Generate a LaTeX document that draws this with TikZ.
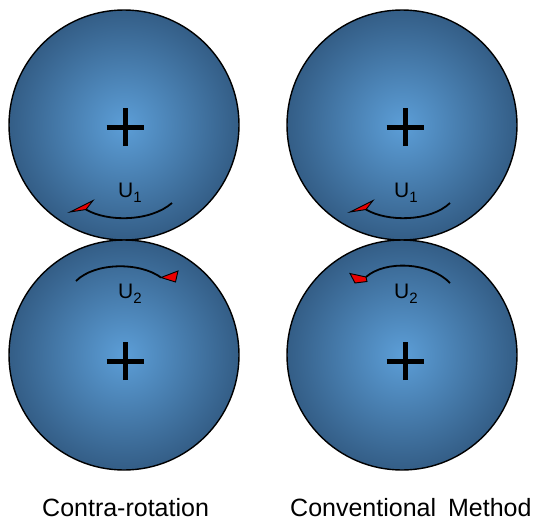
\documentclass[tikz,border=0pt]{standalone}
\usepackage{fontspec}
\setmainfont{Liberation Sans}
\definecolor{ballin}{RGB}{92,158,215}
\definecolor{ballout}{RGB}{42,78,115}
\definecolor{tipred}{RGB}{235,0,0}
\pgfdeclareradialshading{ballshade}{\pgfpoint{0bp}{0bp}}{color(0bp)=(ballin); color(31bp)=(ballout); color(50bp)=(ballout)}
\newcommand\ulab[1]{U\raisebox{-5.5pt}{\fontsize{15}{15}\selectfont #1}}
\tikzset{
  wheel/.style={circle, draw=black, line width=1.4pt, minimum size=230pt, inner sep=0pt, shading=ballshade},
  axisplus/.style={line width=5pt, black},
  rotline/.style={line width=1.8pt, black},
  redtip/.style={fill=tipred, draw=black, line width=0.9pt, line join=miter},
  ulabel/.style={anchor=base west, inner sep=0pt, font=\fontsize{21}{25}\selectfont},
  caption/.style={anchor=base west, inner sep=0pt, font=\fontsize{25}{30}\selectfont}
}
\begin{document}
\begin{tikzpicture}[x=1pt,y=-1pt]
\useasboundingbox (0,0) rectangle (536,523);
% wheels
\node[wheel] (tl) at (124,125) {};
\node[wheel] (bl) at (124,355) {};
\node[wheel] (tr) at (402,125) {};
\node[wheel] (br) at (402,355) {};
% plus signs
\foreach \n/\x/\y in {ptl/125/127, pbl/125/361, ptr/405/127, pbr/405/361}{
  \coordinate (\n) at (\x,\y);
  \draw[axisplus] ([xshift=-18.5pt]\n) -- ([xshift=18.5pt]\n);
  \draw[axisplus] ([yshift=-19pt]\n) -- ([yshift=19pt]\n);
}
% rotation arcs
\coordinate (a1s) at (172,203); \coordinate (a1e) at (86,209.5);
\draw[rotline] (a1s) .. controls (150,222) and (107,222) .. (a1e);
\coordinate (a2s) at (76,281); \coordinate (a2e) at (161,277.5);
\draw[rotline] (a2s) .. controls (95,262) and (140,262) .. (a2e);
\coordinate (a3s) at (450,203); \coordinate (a3e) at (366,209.5);
\draw[rotline] (a3s) .. controls (430,222) and (387,222) .. (a3e);
\coordinate (a4s) at (450,283); \coordinate (a4e) at (366,277);
\draw[rotline] (a4s) .. controls (430,262) and (385,260) .. (a4e);
% red arrow heads
\draw[redtip] (70,212) -- (93,200.5) -- (a1e) -- cycle;
\draw[redtip] (178,271) -- (a2e) -- (175.5,282) -- cycle;
\draw[redtip] (350,212) -- (373,200.5) -- (a3e) -- cycle;
\draw[redtip] (350,273.5) -- (a4e) -- (367,281.5) -- (355,283) -- cycle;
% labels
\node[ulabel] (u1l) at (118,197) {\ulab{1}};
\node[ulabel] (u2l) at (118,298) {\ulab{2}};
\node[ulabel] (u1r) at (394,197) {\ulab{1}};
\node[ulabel] (u2r) at (394,298) {\ulab{2}};
\node[caption] (capl) at (42,516) {Contra-rotation};
\node[caption] (capr) at (290,516) {Conventional\hspace{12pt}Method};
\end{tikzpicture}
\end{document}
